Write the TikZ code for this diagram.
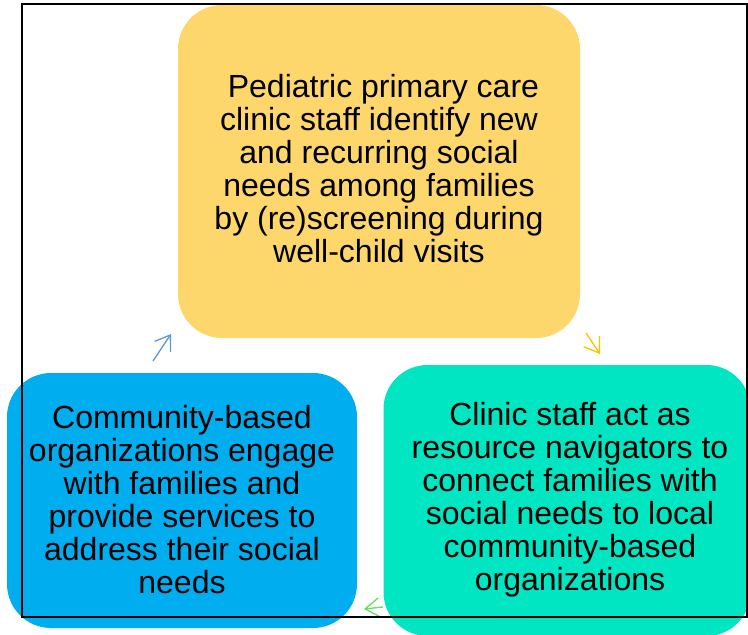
\documentclass[tikz,border=0pt]{standalone}
\usepackage{fontspec}
\setmainfont{Liberation Sans}
\usetikzlibrary{arrows.meta}
\definecolor{cyel}{HTML}{FDD76B}
\definecolor{cblue}{HTML}{00AEEF}
\definecolor{cteal}{HTML}{00E6C3}
\definecolor{ablue}{HTML}{5B9BD5}
\definecolor{ayel}{HTML}{FFC000}
\definecolor{agreen}{HTML}{5FE05F}
\tikzset{
  card/.style={rounded corners=44pt, inner sep=0pt},
  cardtext/.style={align=center, inner sep=0pt,
    font=\fontsize{32}{33}\selectfont, text=black},
  flow/.style={line width=1.3pt, -{Straight Barb[length=14pt,width=19pt,line width=1.3pt]}},
}
\begin{document}
\begin{tikzpicture}[x=1pt,y=-1pt]
\useasboundingbox (0,0) rectangle (748,635);
\node[card, fill=cyel, minimum width=402pt, minimum height=333pt] (top) at (379,171.5) {};
\node[card, fill=cblue, minimum width=350pt, minimum height=255pt] (left) at (182,500.5) {};
\node[card, fill=cteal, minimum width=367pt, minimum height=271pt] (right) at (567,500.5) {};
\node[cardtext] (toptext) at (379,169)
  {\ Pediatric primary care\\clinic staff identify new\\and recurring social\\needs among families\\by (re)screening during\\well-child visits};
\node[cardtext] (lefttext) at (182,500)
  {Community-based\\organizations engage\\with families and\\provide services to\\address their social\\needs};
\node[cardtext] (righttext) at (570,500)
  {Clinic staff act as\\resource navigators to\\connect families with\\social needs to local\\community-based\\organizations};
\coordinate (a1s) at (153,361);
\coordinate (a1e) at (171,334);
\coordinate (a2s) at (586,333);
\coordinate (a2e) at (600,354);
\coordinate (a3s) at (383,607);
\coordinate (a3e) at (364,609);
\draw[flow, ablue] (a1s) -- (a1e);
\draw[flow, ayel] (a2s) -- (a2e);
\draw[flow, agreen] (a3s) -- (a3e);
\node[draw=black, line width=2pt, minimum width=725pt, minimum height=613pt, inner sep=0pt] (frame) at (384.5,310.5) {};
\end{tikzpicture}
\end{document}
